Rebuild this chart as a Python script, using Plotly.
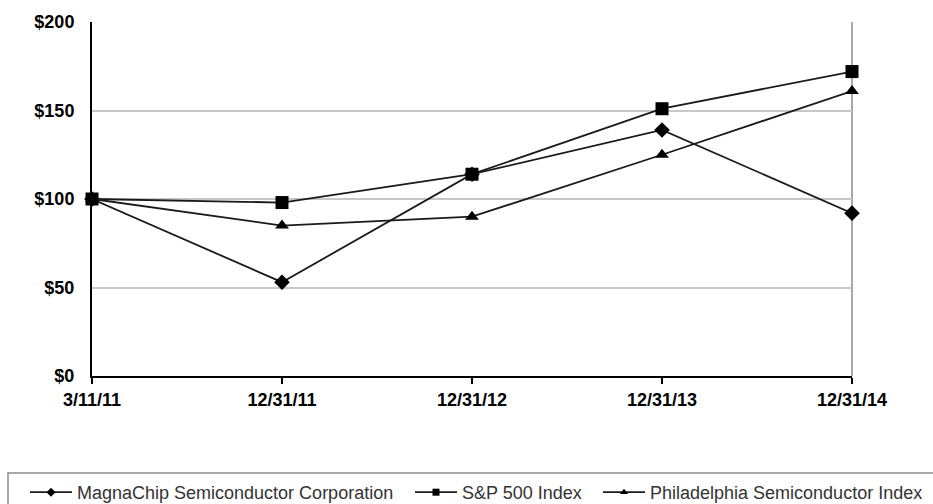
import plotly.graph_objects as go

dates = ["3/11/11", "12/31/11", "12/31/12", "12/31/13", "12/31/14"]
magnachip = [100, 53, 114, 139, 92]
sp500 = [100, 98, 114, 151, 172]
phlx = [100, 85, 90, 125, 161]
y_ticks = [0, 50, 100, 150, 200]
y_tick_labels = ["$0", "$50", "$100", "$150", "$200"]
series_names = ["MagnaChip Semiconductor Corporation", "S&P 500 Index",
                "Philadelphia Semiconductor Index"]

x_pos = list(range(len(dates)))

W, H = 933, 504
ML, MR, MT, MB = 92, 81, 22, 128
pw = W - ML - MR
ph = H - MT - MB

def px_x(p):
    return (p - ML) / pw

def px_y(p):
    return (H - MB - p) / ph

fig = go.Figure()
symbols = ["diamond", "square", "triangle-up"]
sizes = [12, 13, 12]
legend_ids = ["legend", "legend2", "legend3"]
legend_x_px = [25, 410, 598]
values = [magnachip, sp500, phlx]

for name, vals, sym, size in zip(series_names, values, symbols, sizes):
    fig.add_trace(go.Scatter(
        x=x_pos, y=vals, name=name, mode="lines+markers",
        line=dict(color="#1a1a1a", width=1.8),
        marker=dict(symbol=sym, size=size, color="#000000"),
        cliponaxis=False, showlegend=False,
    ))
for name, sym, lid in zip(series_names, symbols, legend_ids):
    fig.add_trace(go.Scatter(
        x=[None], y=[None], name=name, mode="lines+markers",
        line=dict(color="#1a1a1a", width=1.8),
        marker=dict(symbol=sym, size=7, color="#000000"),
        showlegend=True, legend=lid,
    ))

legend_common = dict(
    orientation="h", xanchor="left", yanchor="top", y=px_y(474),
    font=dict(size=18, family="Arial, Liberation Sans, sans-serif", color="#333333"),
    bgcolor="rgba(0,0,0,0)", borderwidth=0, itemwidth=42,
)

fig.update_layout(
    width=W, height=H,
    margin=dict(l=ML, r=MR, t=MT, b=MB, autoexpand=False),
    paper_bgcolor="white", plot_bgcolor="white",
    font=dict(family="Arial, Liberation Sans, sans-serif", color="#000000"),
    xaxis=dict(
        range=[0, len(dates) - 1], tickmode="array", tickvals=x_pos, ticktext=dates,
        showgrid=False, zeroline=False, showline=True, linecolor="#000000", linewidth=2,
        ticks="outside", ticklen=6, tickcolor="#000000", tickwidth=2,
        tickfont=dict(size=18, family="Arial, Liberation Sans, sans-serif", weight="bold", color="#000000"),
    ),
    yaxis=dict(
        range=[0, 200], tickmode="array", tickvals=y_ticks, ticktext=y_tick_labels,
        showgrid=True, gridcolor="#c8c8c8", gridwidth=1.5, zeroline=False,
        showline=True, linecolor="#000000", linewidth=2, ticks="", ticklabelstandoff=12,
        tickfont=dict(size=18, family="Arial, Liberation Sans, sans-serif", weight="bold", color="#000000"),
    ),
    showlegend=True,
    legend=dict(x=px_x(legend_x_px[0]), **legend_common),
    legend2=dict(x=px_x(legend_x_px[1]), **legend_common),
    legend3=dict(x=px_x(legend_x_px[2]), **legend_common),
    shapes=[
        dict(type="line", xref="paper", yref="paper", x0=1, x1=1, y0=0, y1=1,
             line=dict(color="#a8a8a8", width=2), layer="below"),
        dict(type="rect", xref="paper", yref="paper",
             x0=px_x(8), x1=px_x(945), y0=px_y(473), y1=px_y(520),
             line=dict(color="#8c8c8c", width=1.5)),
    ],
)

fig.write_html("out.html", config={"displayModeBar": False},
               post_script="document.body.style.margin='0';")
